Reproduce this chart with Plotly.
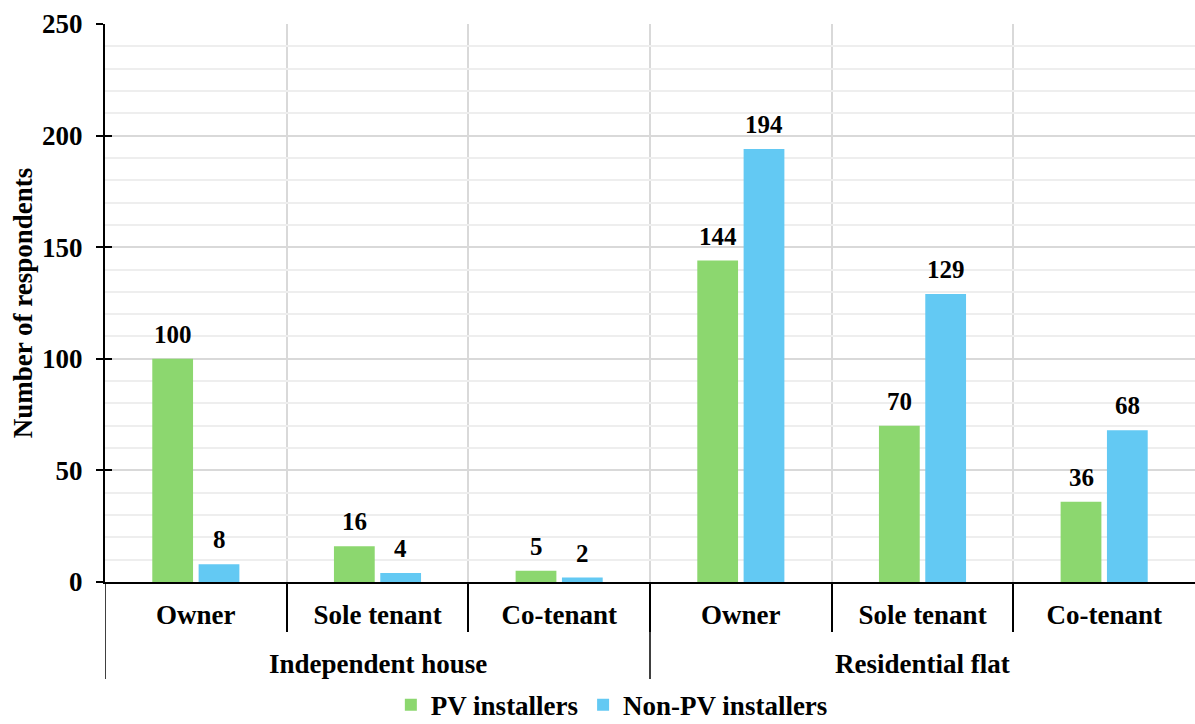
import plotly.graph_objects as go

groups = ["Independent house", "Residential flat"]
subcats = ["Owner", "Sole tenant", "Co-tenant"]
pv_installers = [100, 16, 5, 144, 70, 36]
non_pv_installers = [8, 4, 2, 194, 129, 68]
y_ticks = [0, 50, 100, 150, 200, 250]

FONT = "Liberation Serif, Times New Roman, serif"
GREEN = "#8CD76F"
BLUE = "#63C9F3"
FS = 27

n_sub = len(subcats)
labels = [s for g in groups for s in subcats]
xpos = list(range(len(labels)))

BARGAP = 0.49
BARGROUPGAP = 0.12

def f(size=FS):
    return dict(family=FONT, size=size, color="black", weight="bold")

fig = go.Figure()
fig.add_trace(go.Bar(x=xpos, y=pv_installers, name="PV installers",
                     marker=dict(color=GREEN, line=dict(width=0))))
fig.add_trace(go.Bar(x=xpos, y=non_pv_installers, name="Non-PV installers",
                     marker=dict(color=BLUE, line=dict(width=0))))

# value labels above bars
slot = (1 - BARGAP) / 2
for series, sign in ((pv_installers, -1), (non_pv_installers, 1)):
    for i, v in enumerate(series):
        fig.add_annotation(x=i + sign * slot / 2, y=v, xref="x", yref="y",
                           text=str(v), showarrow=False,
                           yanchor="bottom", yshift=9, font=f(25))

# group labels
for gi, g in enumerate(groups):
    center = gi * n_sub + (n_sub - 1) / 2
    fig.add_annotation(x=center, y=-0.147, xref="x", yref="paper",
                       text=g, showarrow=False, yanchor="middle", font=f())

# group dividers (long lines below axis)
for gi in range(len(groups)):
    xb = gi * n_sub - 0.5
    fig.add_shape(type="line", xref="x", yref="paper", x0=xb, x1=xb,
                  y0=0, y1=-0.174, line=dict(color="black", width=1.5))

boundaries = [i + 0.5 for i in range(len(labels) - 1)]

fig.update_layout(
    width=1195, height=724,
    margin=dict(l=105, r=0, t=24, b=142),
    paper_bgcolor="white", plot_bgcolor="white",
    barmode="group", bargap=BARGAP, bargroupgap=BARGROUPGAP,
    font=f(),
    showlegend=True,
    legend=dict(orientation="h", x=0.465, xanchor="center",
                yref="container", y=0.026, yanchor="middle",
                font=f(), itemwidth=30, tracegroupgap=0, bgcolor="rgba(0,0,0,0)"),
)

fig.update_xaxes(
    range=[-0.5, len(labels) - 0.5],
    tickmode="array", tickvals=xpos, ticktext=labels,
    ticks="", showgrid=False, zeroline=False,
    showline=True, linecolor="black", linewidth=2,
    tickfont=f(), ticklabelstandoff=8,
    minor=dict(tickmode="array", tickvals=boundaries, ticks="outside", ticklen=48,
               tickcolor="black", tickwidth=1.5, showgrid=True,
               gridcolor="#D9D9D9", gridwidth=1.5),
)

fig.update_yaxes(
    range=[0, 250], tickmode="array", tickvals=y_ticks, ticktext=[str(t) for t in y_ticks],
    ticks="outside", ticklen=7, tickcolor="black", tickwidth=2,
    showline=True, linecolor="black", linewidth=2,
    showgrid=True, gridcolor="#D9D9D9", gridwidth=1.5, zeroline=False,
    tickfont=f(), ticklabelstandoff=8,
    minor=dict(dtick=10, showgrid=True, gridcolor="#EEEEEE", gridwidth=1.5, ticks=""),
    title=dict(text="Number of respondents", standoff=2, font=f()),
    automargin=False,
)

# crossing ticks: inside part via overlaid axis
fig.update_layout(yaxis2=dict(overlaying="y", side="left", range=[0, 250],
                              tickmode="array", tickvals=y_ticks, ticks="inside",
                              ticklen=7, tickcolor="black", tickwidth=2,
                              showticklabels=False, showgrid=False, zeroline=False,
                              showline=False))
fig.add_trace(go.Scatter(x=[None], y=[None], yaxis="y2", showlegend=False, hoverinfo="skip"))

fig.write_html("out.html")
